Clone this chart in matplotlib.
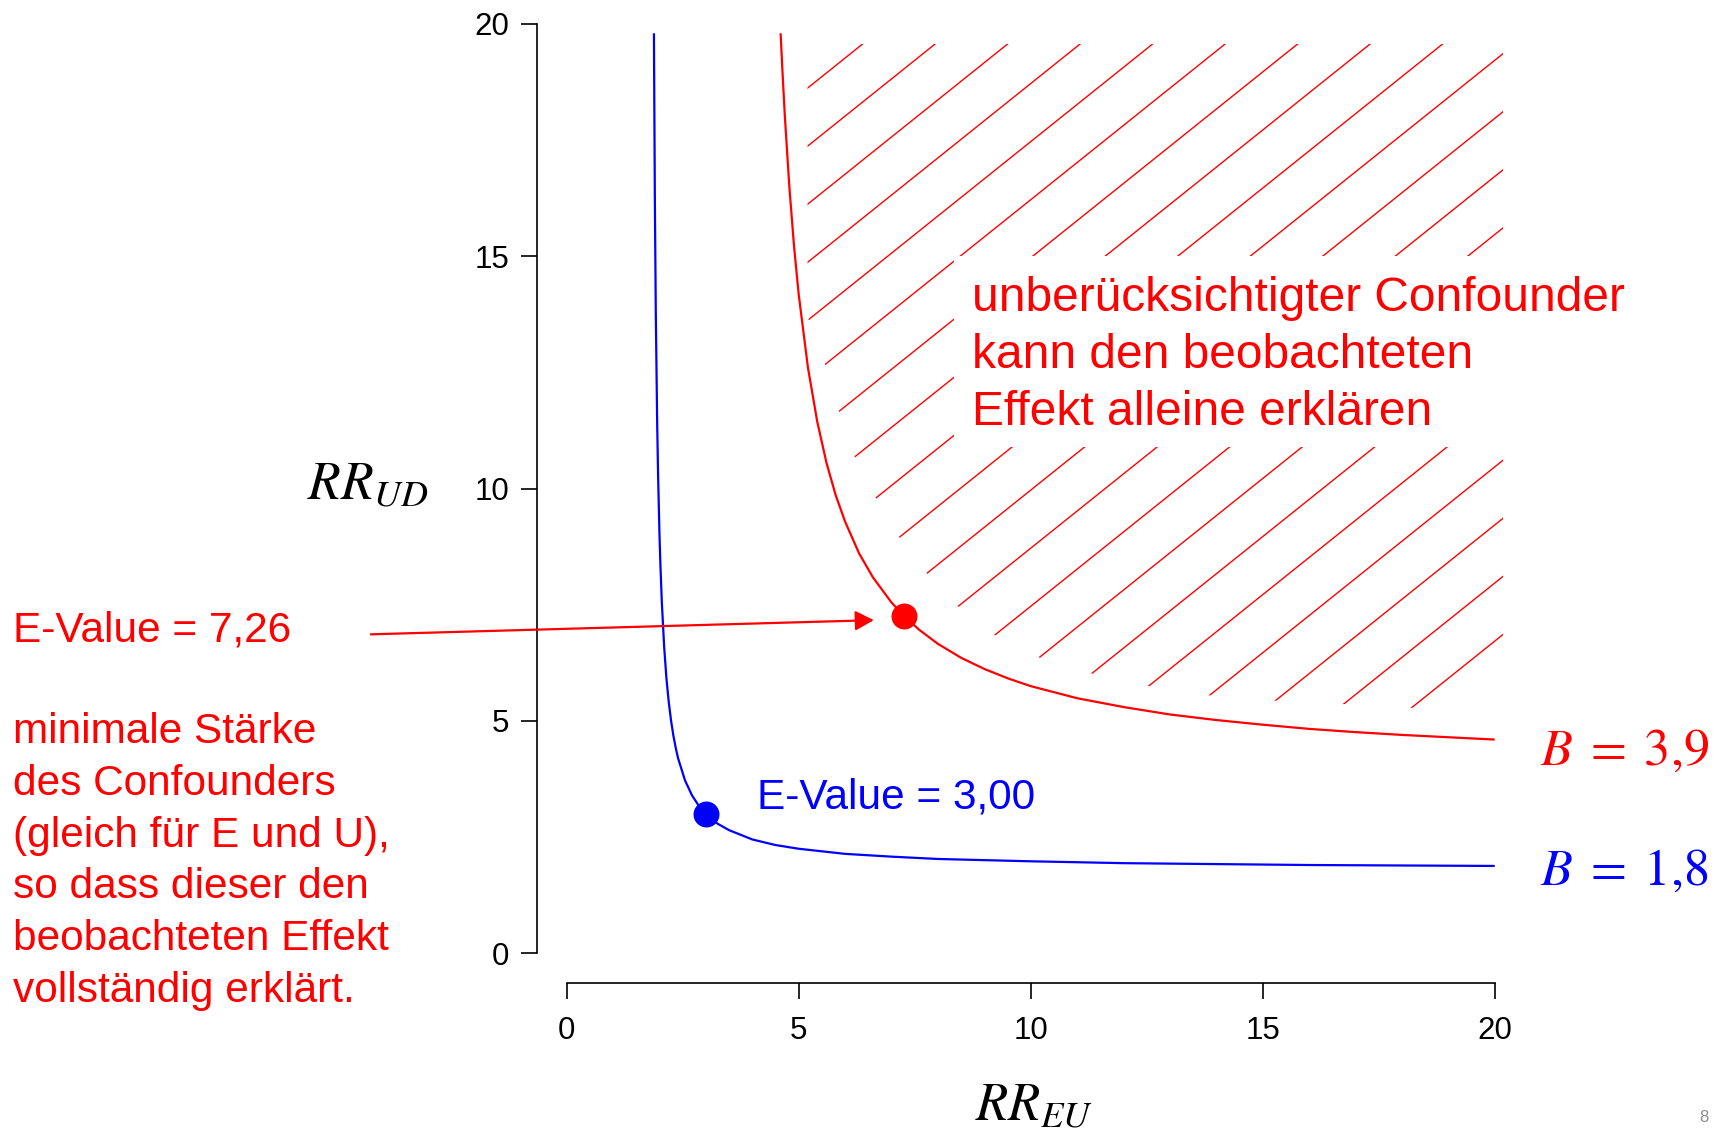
import matplotlib
matplotlib.use('Agg')
import matplotlib.pyplot as plt
from matplotlib.collections import LineCollection
from matplotlib.patches import Polygon, Rectangle, FancyArrowPatch, ArrowStyle

plt.rcParams['font.family'] = ['Liberation Sans', 'DejaVu Sans']
plt.rcParams['mathtext.fontset'] = 'stix'

RED = '#ff0000'
BLUE = '#0000ff'

# ---------------- data ----------------
b_labels = [r'$B\;=\;3{,}9$', r'$B\;=\;1{,}8$']
e_values = [7.26, 3.00]
e_labels = ['E-Value = 7,26', 'E-Value = 3,00']

# curve B = 3.9 (red)
red_x = [4.61, 4.65, 4.70, 4.80, 4.90, 5.00, 5.20, 5.40, 5.60, 5.80, 6.00,
         6.30, 6.60, 7.00, 7.26, 7.60, 8.00, 8.50, 9.00, 9.50, 10.0, 11.0,
         12.0, 13.0, 14.0, 15.0, 16.0, 17.0, 18.0, 19.0, 20.0]
red_y = [19.80, 18.98, 18.04, 16.47, 15.21, 14.18, 12.60, 11.44, 10.55, 9.85, 9.29,
         8.61, 8.09, 7.55, 7.27, 6.96, 6.66, 6.36, 6.12, 5.92, 5.75, 5.49,
         5.30, 5.14, 5.02, 4.92, 4.83, 4.76, 4.70, 4.65, 4.60]

# curve B = 1.8 (blue)
blue_x = [1.88, 1.90, 1.92, 1.95, 1.97, 2.00, 2.02, 2.05, 2.10, 2.15, 2.20,
          2.25, 2.30, 2.35, 2.40, 2.55, 2.70, 2.85, 3.00, 3.25, 3.50, 4.00,
          4.50, 5.00, 6.00, 7.00, 8.00, 10.0, 12.0, 14.0, 16.0, 18.0, 20.0]
blue_y = [19.80, 16.20, 13.80, 11.40, 10.27, 9.00, 8.35, 7.56, 6.60, 5.91, 5.40,
          5.00, 4.68, 4.42, 4.20, 3.72, 3.40, 3.17, 3.00, 2.79, 2.65, 2.45,
          2.33, 2.25, 2.14, 2.08, 2.03, 1.98, 1.94, 1.92, 1.90, 1.89, 1.88]

# hatched region boundary
hatch_x = [5.19, 5.19, 5.50, 5.80, 6.10, 6.60, 7.20, 7.90, 8.70, 9.60, 10.6,
           11.8, 13.3, 15.0, 17.0, 18.8, 20.18, 20.18]
hatch_y = [19.57, 13.70, 12.90, 11.90, 10.90, 9.90, 8.90, 8.00, 7.20, 6.60, 6.20,
           5.90, 5.60, 5.45, 5.35, 5.25, 5.10, 19.57]

ticks = [0, 5, 10, 15, 20]
tick_labels = ['0', '5', '10', '15', '20']

box_lines = ['unberücksichtigter Confounder', 'kann den beobachteten',
             'Effekt alleine erklären']
left_lines = ['minimale Stärke', 'des Confounders', '(gleich für E und U),',
              'so dass dieser den', 'beobachteten Effekt', 'vollständig erklärt.']

# ---------------- figure ----------------
W, H = 1729, 1130
fig = plt.figure(figsize=(W / 100, H / 100), dpi=100, facecolor='white')
ax = fig.add_axes([566.7 / W, 1 - 953.3 / H, 928 / W, 929.3 / H])
ax.set_xlim(0, 20)
ax.set_ylim(0, 20)

for s in ['top', 'right']:
    ax.spines[s].set_visible(False)
for s in ['left', 'bottom']:
    ax.spines[s].set_position(('outward', 21.5))
    ax.spines[s].set_bounds(0, 20)
    ax.spines[s].set_linewidth(1.2)

ax.set_xticks(ticks)
ax.set_xticklabels(tick_labels)
ax.set_yticks(ticks)
ax.set_yticklabels(tick_labels)
ax.tick_params(axis='both', direction='out', length=11.3, width=1.2,
               labelsize=22.5, colors='black')
ax.tick_params(axis='x', pad=12)
ax.tick_params(axis='y', pad=8.4)

# hatch lines clipped to region
slope = 0.80
step = 1.25
x0, y0 = 5.19, 18.62
segs = []
for k in range(-30, 20):
    yy = y0 - k * step
    segs.append([(3.0, yy + slope * (3.0 - x0)), (22.0, yy + slope * (22.0 - x0))])
clip_poly = Polygon(list(zip(hatch_x, hatch_y)), closed=True,
                    transform=ax.transData, facecolor='none', edgecolor='none')
lc = LineCollection(segs, colors=RED, linewidths=1.0, zorder=1)
lc.set_clip_path(clip_poly)
ax.add_collection(lc)

# white box behind text
ax.add_patch(Rectangle((8.34, 10.90), 12.6, 4.11, facecolor='white',
                       edgecolor='none', zorder=1.5, clip_on=False))

# curves
ax.plot(red_x, red_y, color=RED, lw=1.6, zorder=2, solid_capstyle='butt')
ax.plot(blue_x, blue_y, color=BLUE, lw=1.6, zorder=2, solid_capstyle='butt')

# E-value points
ax.plot([e_values[0]], [e_values[0]], 'o', color=RED, ms=18.7, zorder=3,
        clip_on=False, markeredgewidth=0)
ax.plot([e_values[1]], [e_values[1]], 'o', color=BLUE, ms=18.7, zorder=3,
        clip_on=False, markeredgewidth=0)

# arrow
arr = FancyArrowPatch((-4.22, 6.865), (6.62, 7.17),
                      arrowstyle=ArrowStyle('-|>', head_length=11.3, head_width=6.0),
                      mutation_scale=1, color=RED, lw=1.6, shrinkA=0, shrinkB=0,
                      zorder=3, clip_on=False)
ax.add_patch(arr)


def ftext(x, y, s, **kw):
    fig.text(x / W, 1 - y / H, s, **kw)


# axis labels
ftext(307, 499, r'$RR_{UD}$', fontsize=38.5, va='baseline', ha='left')
ftext(975, 1120, r'$RR_{EU}$', fontsize=38, va='baseline', ha='left')

# B labels
ftext(1540, 765, b_labels[0], fontsize=37.5, color=RED, va='baseline', ha='left')
ftext(1540, 885, b_labels[1], fontsize=37.5, color=BLUE, va='baseline', ha='left')

# E-value texts
ftext(13, 641.7, e_labels[0], fontsize=30.5, color=RED, va='baseline', ha='left')
ftext(757, 808, e_labels[1], fontsize=30.5, color=BLUE, va='baseline', ha='left')

for i, line in enumerate(left_lines):
    ftext(13, 743.3 + i * 51.7, line, fontsize=30.5, color=RED, va='baseline', ha='left')

for i, line in enumerate(box_lines):
    ftext(972, 311 + i * 57.2, line, fontsize=34.5, color=RED, va='baseline',
          ha='left', zorder=4)

# page number
ftext(1704, 1122, '8', fontsize=12, color='#8c8c8c', va='baseline', ha='center')

fig.savefig('out.png', dpi=100, facecolor='white')
